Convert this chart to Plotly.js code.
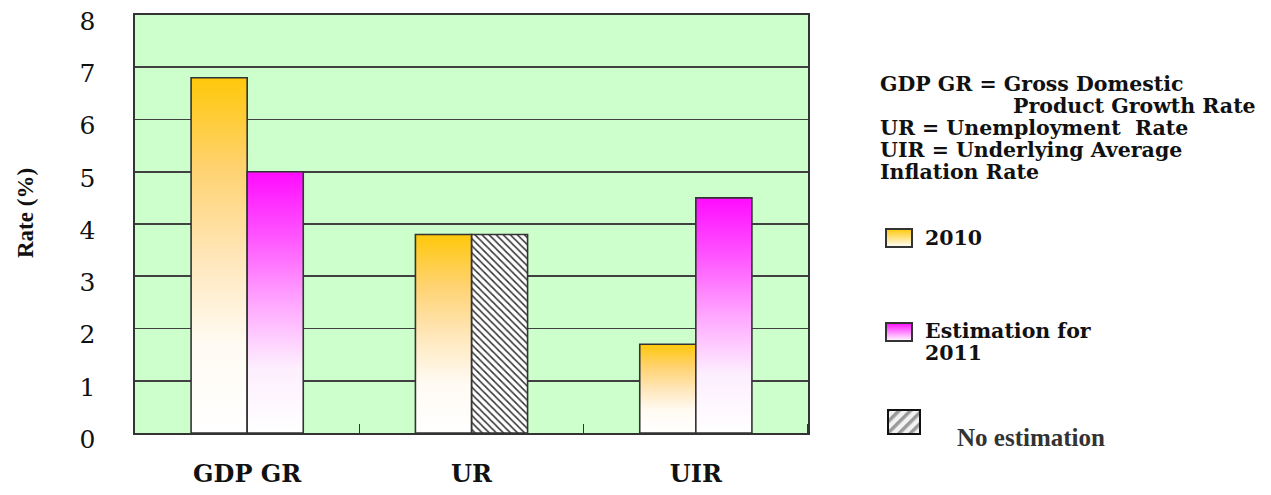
<!DOCTYPE html>
<html><head><meta charset="utf-8">
<script src="https://cdn.plot.ly/plotly-3.0.1.min.js"></script>
<style>html,body{margin:0;padding:0;background:#fff}</style>
</head><body><div id="chart" style="width:1271px;height:495px"></div>
<script>
// ---- data ----
const categories = ['GDP GR', 'UR', 'UIR'];
const values2010 = [6.8, 3.8, 1.7];
const values2011 = [5.0, null, 4.5];
const noEstimation = [null, 3.8, null];
const yTicks = [0, 1, 2, 3, 4, 5, 6, 7, 8];
const noteLines = ['GDP GR = Gross Domestic', 'Product Growth Rate', 'UR = Unemployment  Rate', 'UIR = Underlying Average', 'Inflation Rate'];
const seriesNames = ['2010', 'Estimation for<br>2011', 'No estimation'];

// ---- geometry helpers (plot area in pixels) ----
const W = 1271, H = 495;
const M = {l: 135, r: 463, t: 15, b: 62};
const PW = W - M.l - M.r, PH = H - M.t - M.b;
const px = x => (x - M.l) / PW;
const py = y => (H - M.b - y) / PH;

const BARW = 0.25;
const yellowScale = [[0, '#ffffff'], [0.25, '#fffbf3'], [0.5, '#ffe6b8'], [0.75, '#ffd26e'], [1, '#ffc80a']];
const magentaScale = [[0, '#ffffff'], [0.25, '#fdeefe'], [0.5, '#ffa6ff'], [0.75, '#ff55ff'], [1, '#ff0cff']];

function barTrace(i, h, side, scale) {
  const x0 = side < 0 ? i - BARW : i;
  const x1 = side < 0 ? i : i + BARW;
  return {
    type: 'scatter', mode: 'lines', x: [x0, x0, x1, x1, x0], y: [0, h, h, 0, 0],
    fill: 'toself', fillgradient: {type: 'vertical', colorscale: scale},
    line: {color: '#333', width: 1.6}, hoverinfo: 'skip', showlegend: false
  };
}

const traces = [];
categories.forEach((c, i) => {
  if (values2010[i] != null) traces.push(barTrace(i, values2010[i], -1, yellowScale));
  if (values2011[i] != null) traces.push(barTrace(i, values2011[i], 1, magentaScale));
});
const hx = [], hy = [];
noEstimation.forEach((v, i) => { if (v != null) { hx.push(i); hy.push(v); } });
traces.push({
  type: 'bar', x: hx, y: hy, width: BARW, offset: 0, base: 0, showlegend: false, hoverinfo: 'skip',
  marker: {color: '#ffffff', line: {color: '#333', width: 1.6},
    pattern: {shape: '\\', fgcolor: '#333', bgcolor: '#ffffff', size: 5, solidity: 0.3}}
});

// ---- legend swatches (svg images) ----
function svgUri(s) { return 'data:image/svg+xml;base64,' + btoa(s); }
const swYellow = svgUri("<svg xmlns='http://www.w3.org/2000/svg' width='28' height='20'><defs><linearGradient id='g' x1='0' y1='0' x2='0' y2='1'><stop offset='0' stop-color='#ffc80a'/><stop offset='1' stop-color='#ffffff'/></linearGradient></defs><rect x='1' y='1' width='26' height='18' fill='url(#g)' stroke='#333' stroke-width='2'/></svg>");
const swMagenta = svgUri("<svg xmlns='http://www.w3.org/2000/svg' width='28' height='20'><defs><linearGradient id='g' x1='0' y1='0' x2='0' y2='1'><stop offset='0' stop-color='#ff0cff'/><stop offset='1' stop-color='#ffffff'/></linearGradient></defs><rect x='1' y='1' width='26' height='18' fill='url(#g)' stroke='#333' stroke-width='2'/></svg>");
const swHatch = svgUri("<svg xmlns='http://www.w3.org/2000/svg' width='34' height='26'><defs><pattern id='p' width='8' height='8' patternUnits='userSpaceOnUse' patternTransform='rotate(45)'><rect width='8' height='8' fill='#f2f2f2'/><rect width='3.5' height='8' fill='#9a9a9a'/></pattern></defs><rect x='1' y='1' width='32' height='24' fill='url(#p)' stroke='#111' stroke-width='2'/></svg>");

function img(src, x, y, w, h) {
  return {source: src, xref: 'paper', yref: 'paper', x: px(x), y: py(y), sizex: w / PW, sizey: h / PH,
    xanchor: 'left', yanchor: 'top', sizing: 'stretch', layer: 'above'};
}

const noteFont = {family: 'DejaVu Serif', size: 20.5, color: '#111', weight: 'bold'};
function note(text, x, y, font) {
  return {text: text, xref: 'paper', yref: 'paper', x: px(x), y: py(y), xanchor: 'left', yanchor: 'middle',
    showarrow: false, font: font || noteFont, align: 'left'};
}
const noteY = [84, 106, 128, 150, 172];
const noteX = [878, 1011, 878, 878, 878];
const annotations = noteLines.map((t, k) => note(t, noteX[k], noteY[k]));
annotations.push(note(seriesNames[0], 923, 238));
annotations.push(note('Estimation for', 923, 331));
annotations.push(note('2011', 923, 353));
annotations.push(note(seriesNames[2], 955, 438, {family: 'Liberation Serif', size: 25, color: '#333', weight: 'bold'}));
annotations.push({text: 'Rate (%)', xref: 'paper', yref: 'paper', x: px(25), y: py(213), textangle: -90,
  xanchor: 'center', yanchor: 'middle', showarrow: false,
  font: {family: 'Liberation Serif', size: 23, color: '#111', weight: 'bold'}});

const layout = {
  width: W, height: H, margin: M, showlegend: false,
  paper_bgcolor: '#ffffff', plot_bgcolor: '#ccffcc',
  xaxis: {range: [-0.5, 2.5], tickmode: 'array', tickvals: [0, 1, 2], ticktext: categories, ticks: '',
    showgrid: false, zeroline: false, showline: true, mirror: true, linecolor: '#333', linewidth: 1.6,
    ticklabelstandoff: 19, tickfont: {family: 'DejaVu Serif', size: 24, color: '#111', weight: 'bold'},
    minor: {tickmode: 'array', tickvals: [0.5, 1.5, 2.5], ticks: 'inside', ticklen: 9, tickcolor: '#333', tickwidth: 1.5, showgrid: false},
    fixedrange: true},
  yaxis: {range: [0, 8], tickmode: 'array', tickvals: yTicks, ticks: '', showgrid: true, gridcolor: '#404040', gridwidth: 1.6,
    zeroline: false, showline: true, mirror: true, linecolor: '#333', linewidth: 1.6,
    ticklabelstandoff: 33, ticklabelshift: 6, tickfont: {family: 'DejaVu Serif', size: 25, color: '#111'}, fixedrange: true},
  annotations: annotations,
  images: [img(swYellow, 885, 228, 28, 20), img(swMagenta, 885, 322, 28, 20), img(swHatch, 887, 409, 34, 26)]
};

Plotly.newPlot('chart', traces, layout, {displayModeBar: false, staticPlot: true});
</script>
</body></html>
